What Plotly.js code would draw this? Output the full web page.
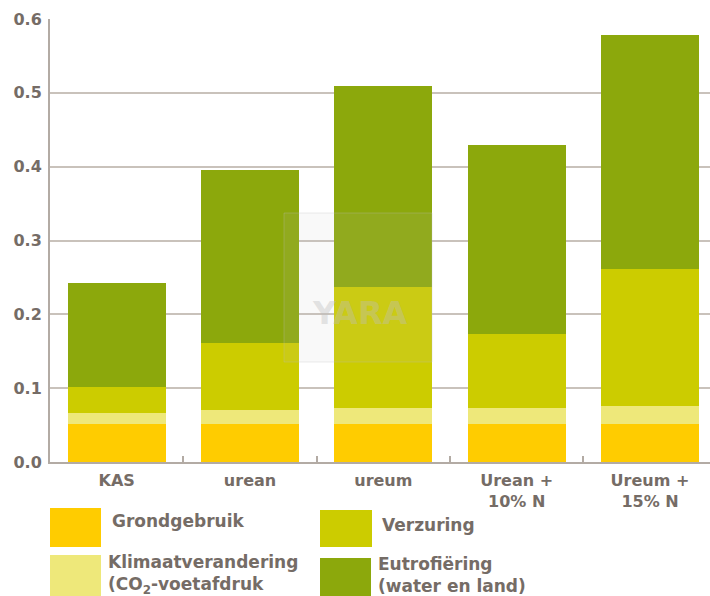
<!DOCTYPE html>
<html>
<head>
<meta charset="utf-8">
<script src="https://cdn.plot.ly/plotly-3.0.1.min.js"></script>
<style>html,body{margin:0;padding:0;background:#fff;}#chart{width:710px;height:596px;}</style>
</head>
<body>
<div id="chart"></div>
<script>
// Data
const categories = ["KAS", "urean", "ureum", "Urean +<br>10% N", "Ureum +<br>15% N"];
const seriesNames = ["Grondgebruik", "Klimaatverandering<br>(CO<sub>2</sub>-voetafdruk", "Verzuring", "Eutrofiëring<br>(water en land)"];
const grondgebruik = [0.052, 0.052, 0.052, 0.052, 0.052];
const klimaat = [0.014, 0.019, 0.021, 0.021, 0.024];
const verzuring = [0.036, 0.090, 0.164, 0.101, 0.186];
const eutrofiering = [0.141, 0.234, 0.272, 0.256, 0.316];
const yTicks = [0.0, 0.1, 0.2, 0.3, 0.4, 0.5, 0.6];

const colors = ["#FFCC00", "#EEE87A", "#CCCC00", "#8CA80C"];
const values = [grondgebruik, klimaat, verzuring, eutrofiering];
const textColor = "#756c66";
const axisColor = "#B3ABA4";
const FONT = "DejaVu Sans, Verdana, sans-serif";

const traces = values.map((v, i) => ({
  type: "bar",
  x: categories,
  y: v,
  name: seriesNames[i],
  marker: {color: colors[i], line: {width: 0}},
  showlegend: false,
  hoverinfo: "skip"
}));

// layout geometry helpers (pixel -> paper)
const W = 710, H = 596, mL = 50, mR = 0, mT = 19, mB = 134;
const pw = W - mL - mR, ph = H - mT - mB;
const px = x => (x - mL) / pw;
const py = y => (H - mB - y) / ph;

const shapes = [];
const annotations = [];
const legendPos = [
  {bx0: 50, bx1: 101, by0: 508, by1: 547, tx: 110, ty: 521},
  {bx0: 50, bx1: 101, by0: 555, by1: 600, tx: 106, ty: 574},
  {bx0: 320, bx1: 372, by0: 510, by1: 547, tx: 380, ty: 525},
  {bx0: 320, bx1: 371, by0: 558, by1: 600, tx: 376, ty: 575}
];
legendPos.forEach((p, i) => {
  shapes.push({type: "rect", xref: "paper", yref: "paper",
    x0: px(p.bx0), x1: px(p.bx1), y0: py(p.by1), y1: py(p.by0),
    fillcolor: colors[i], line: {width: 0}});
  annotations.push({xref: "paper", yref: "paper", x: px(p.tx), y: py(p.ty),
    xanchor: "left", yanchor: "middle", align: "left", showarrow: false,
    text: seriesNames[i],
    font: {family: FONT, size: 17, color: textColor, weight: "bold"}});
});

// faint watermark
shapes.push({type: "rect", xref: "paper", yref: "paper",
  x0: px(284), x1: px(432), y0: py(362), y1: py(213),
  fillcolor: "rgba(200,200,200,0.10)", line: {color: "rgba(190,190,190,0.3)", width: 1}, layer: "above"});
annotations.push({xref: "paper", yref: "paper", x: px(360), y: py(334), showarrow: false,
  text: "YARA", font: {family: FONT, size: 32, color: "rgba(190,190,190,0.4)", weight: "bold"}});

const layout = {
  width: W, height: H,
  margin: {l: mL, r: mR, t: mT, b: mB, pad: 0},
  paper_bgcolor: "#fff", plot_bgcolor: "#fff",
  barmode: "stack",
  bargap: 0.265,
  font: {family: FONT, color: textColor},
  xaxis: {
    type: "category",
    range: [-0.5, 4.45],
    showline: true, linecolor: axisColor, linewidth: 2,
    ticks: "inside", tickson: "boundaries", ticklen: 6, tickwidth: 2, tickcolor: axisColor,
    showgrid: false,
    tickfont: {family: FONT, size: 16, color: textColor, weight: "bold"},
    ticklabelstandoff: 3,
    fixedrange: true
  },
  yaxis: {
    range: [0, 0.6],
    tickvals: yTicks,
    ticktext: yTicks.map(v => v.toFixed(1)),
    showline: true, linecolor: axisColor, linewidth: 2,
    ticks: "", showgrid: true, gridcolor: "#C9C2BB", gridwidth: 2,
    zeroline: false,
    tickfont: {family: FONT, size: 16, color: textColor, weight: "bold"},
    ticklabelstandoff: 3,
    fixedrange: true
  },
  shapes: shapes,
  annotations: annotations
};

Plotly.newPlot("chart", traces, layout, {displayModeBar: false, staticPlot: true});
</script>
</body>
</html>
